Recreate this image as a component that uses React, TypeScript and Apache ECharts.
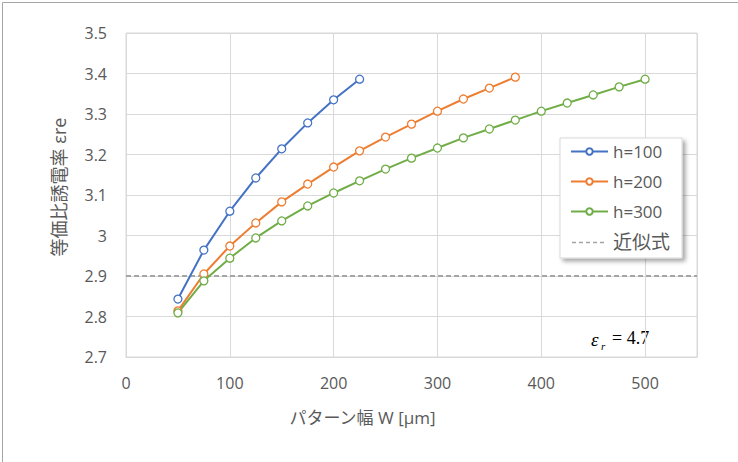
import React, { useEffect, useRef } from "react";
import * as echarts from "echarts";

const widths100 = [50, 75, 100, 125, 150, 175, 200, 225];
const ere100 = [2.843, 2.964, 3.06, 3.142, 3.214, 3.278, 3.335, 3.386];

const widths200 = [50, 75, 100, 125, 150, 175, 200, 225, 250, 275, 300, 325, 350, 375];
const ere200 = [2.814, 2.905, 2.974, 3.031, 3.083, 3.127, 3.169, 3.209, 3.243, 3.275, 3.307, 3.337, 3.364, 3.391];

const widths300 = [50, 75, 100, 125, 150, 175, 200, 225, 250, 275, 300, 325, 350, 375, 400, 425, 450, 475, 500];
const ere300 = [2.809, 2.888, 2.944, 2.994, 3.036, 3.073, 3.105, 3.135, 3.164, 3.191, 3.216, 3.241, 3.263, 3.285, 3.307, 3.327, 3.347, 3.367, 3.386];

const approxX = [0, 550];
const approxY = [2.9, 2.9];

const seriesNames = ["h=100", "h=200", "h=300", "近似式"];
const colors = ["#4472c4", "#ed7d31", "#70ad47", "#a5a5a5"];

const zip = (xs: number[], ys: number[]) => xs.map((x, i) => [x, ys[i]]);

const dashIcon =
  "path://M0,0h0.01v0.01h-0.01z M36.99,7.99h0.01v0.01h-0.01z " +
  "M1,3.3h4v1.4h-4z M8,3.3h4v1.4h-4z M15,3.3h4v1.4h-4z M22,3.3h4v1.4h-4z M29,3.3h4v1.4h-4z";

export default function App() {
  const ref = useRef<HTMLDivElement>(null);
  useEffect(() => {
    if (!ref.current) return;
    const chart = echarts.init(ref.current, undefined, { renderer: "svg" });
    const font = "'Open Sans', 'Noto Sans CJK JP', sans-serif";
    const mkLine = (i: number, data: number[][]) => ({
      name: seriesNames[i],
      type: "line",
      data,
      symbol: "circle",
      symbolSize: 8,
      showSymbol: true,
      itemStyle: { color: "#ffffff", borderColor: colors[i], borderWidth: 1.3 },
      lineStyle: { color: colors[i], width: 2 },
      z: 3,
    });
    chart.setOption({
      animation: false,
      backgroundColor: "#ffffff",
      textStyle: { fontFamily: font },
      grid: {
        left: 126,
        top: 33,
        right: 41,
        bottom: 105,
        show: true,
        borderColor: "#d9d9d9",
        borderWidth: 1,
      },
      xAxis: {
        type: "value",
        min: 0,
        max: 550,
        interval: 100,
        name: "パターン幅 W [μm]",
        nameLocation: "middle",
        nameGap: 52,
        nameTextStyle: { color: "#595959", fontSize: 17, fontFamily: font, padding: [0, 98, 0, 0] },
        axisLine: { show: true, lineStyle: { color: "#d9d9d9" } },
        axisTick: { show: false },
        axisLabel: { color: "#595959", fontSize: 16, margin: 18, fontFamily: font, showMaxLabel: false },
        splitLine: { show: true, lineStyle: { color: "#d9d9d9", width: 1 } },
      },
      yAxis: {
        type: "value",
        min: 2.7,
        max: 3.5,
        interval: 0.1,
        name: "等価比誘電率 εre",
        nameLocation: "middle",
        nameGap: 58,
        nameRotate: 90,
        nameTextStyle: { color: "#595959", fontSize: 18, fontFamily: font, padding: [0, 0, 0, 16] },
        axisLine: { show: false },
        axisTick: { show: false },
        axisLabel: { color: "#595959", fontSize: 16, margin: 19, fontFamily: font },
        splitLine: { show: true, lineStyle: { color: "#d9d9d9", width: 1 } },
      },
      legend: {
        orient: "vertical",
        left: 560,
        top: 138,
        data: [
          { name: seriesNames[0] },
          { name: seriesNames[1] },
          { name: seriesNames[2] },
          { name: seriesNames[3], icon: dashIcon },
        ],
        formatter: (n: string) => (n === "近似式" ? "{cjk|" + n + "}" : n),
        backgroundColor: "#ffffff",
        borderColor: "#d9d9d9",
        borderWidth: 1,
        shadowColor: "rgba(0,0,0,0.35)",
        shadowBlur: 4,
        shadowOffsetX: 3,
        shadowOffsetY: 3,
        padding: [5, 12, 6, 10],
        itemWidth: 37,
        itemHeight: 8,
        itemGap: 13,
        textStyle: {
          color: "#595959",
          fontSize: 17,
          fontFamily: font,
          rich: { cjk: { fontSize: 19, color: "#595959", fontFamily: font } },
        },
      },
      series: [
        mkLine(0, zip(widths100, ere100)),
        mkLine(1, zip(widths200, ere200)),
        mkLine(2, zip(widths300, ere300)),
        {
          name: seriesNames[3],
          type: "line",
          data: zip(approxX, approxY),
          symbol: "none",
          itemStyle: { color: colors[3] },
          lineStyle: { color: colors[3], width: 2, type: [5, 3] },
          z: 2,
        },
      ],
      graphic: [
        {
          type: "rect",
          left: 0,
          top: 0,
          shape: { x: 0.5, y: 0.5, width: 737, height: 461 },
          style: { fill: "none", stroke: "#a6a6a6", lineWidth: 1 },
          silent: true,
          z: 10,
        },
        {
          type: "text",
          x: 591,
          y: 339,
          style: {
            text: "ε",
            font: "italic 19px 'Liberation Serif', 'DejaVu Serif', serif",
            fill: "#000000",
            verticalAlign: "middle",
          },
        },
        {
          type: "text",
          x: 601,
          y: 346,
          style: {
            text: "r",
            font: "italic 11px 'Liberation Serif', 'DejaVu Serif', serif",
            fill: "#000000",
            verticalAlign: "middle",
          },
        },
        {
          type: "text",
          x: 612,
          y: 338,
          style: {
            text: "= 4.7",
            font: "18px 'Liberation Serif', 'DejaVu Serif', serif",
            fill: "#000000",
            verticalAlign: "middle",
          },
        },
      ],
    });
    return () => chart.dispose();
  }, []);
  return (
    <div
      ref={ref}
      style={{ position: "fixed", left: 0, top: 0, width: 738, height: 462 }}
    />
  );
}
